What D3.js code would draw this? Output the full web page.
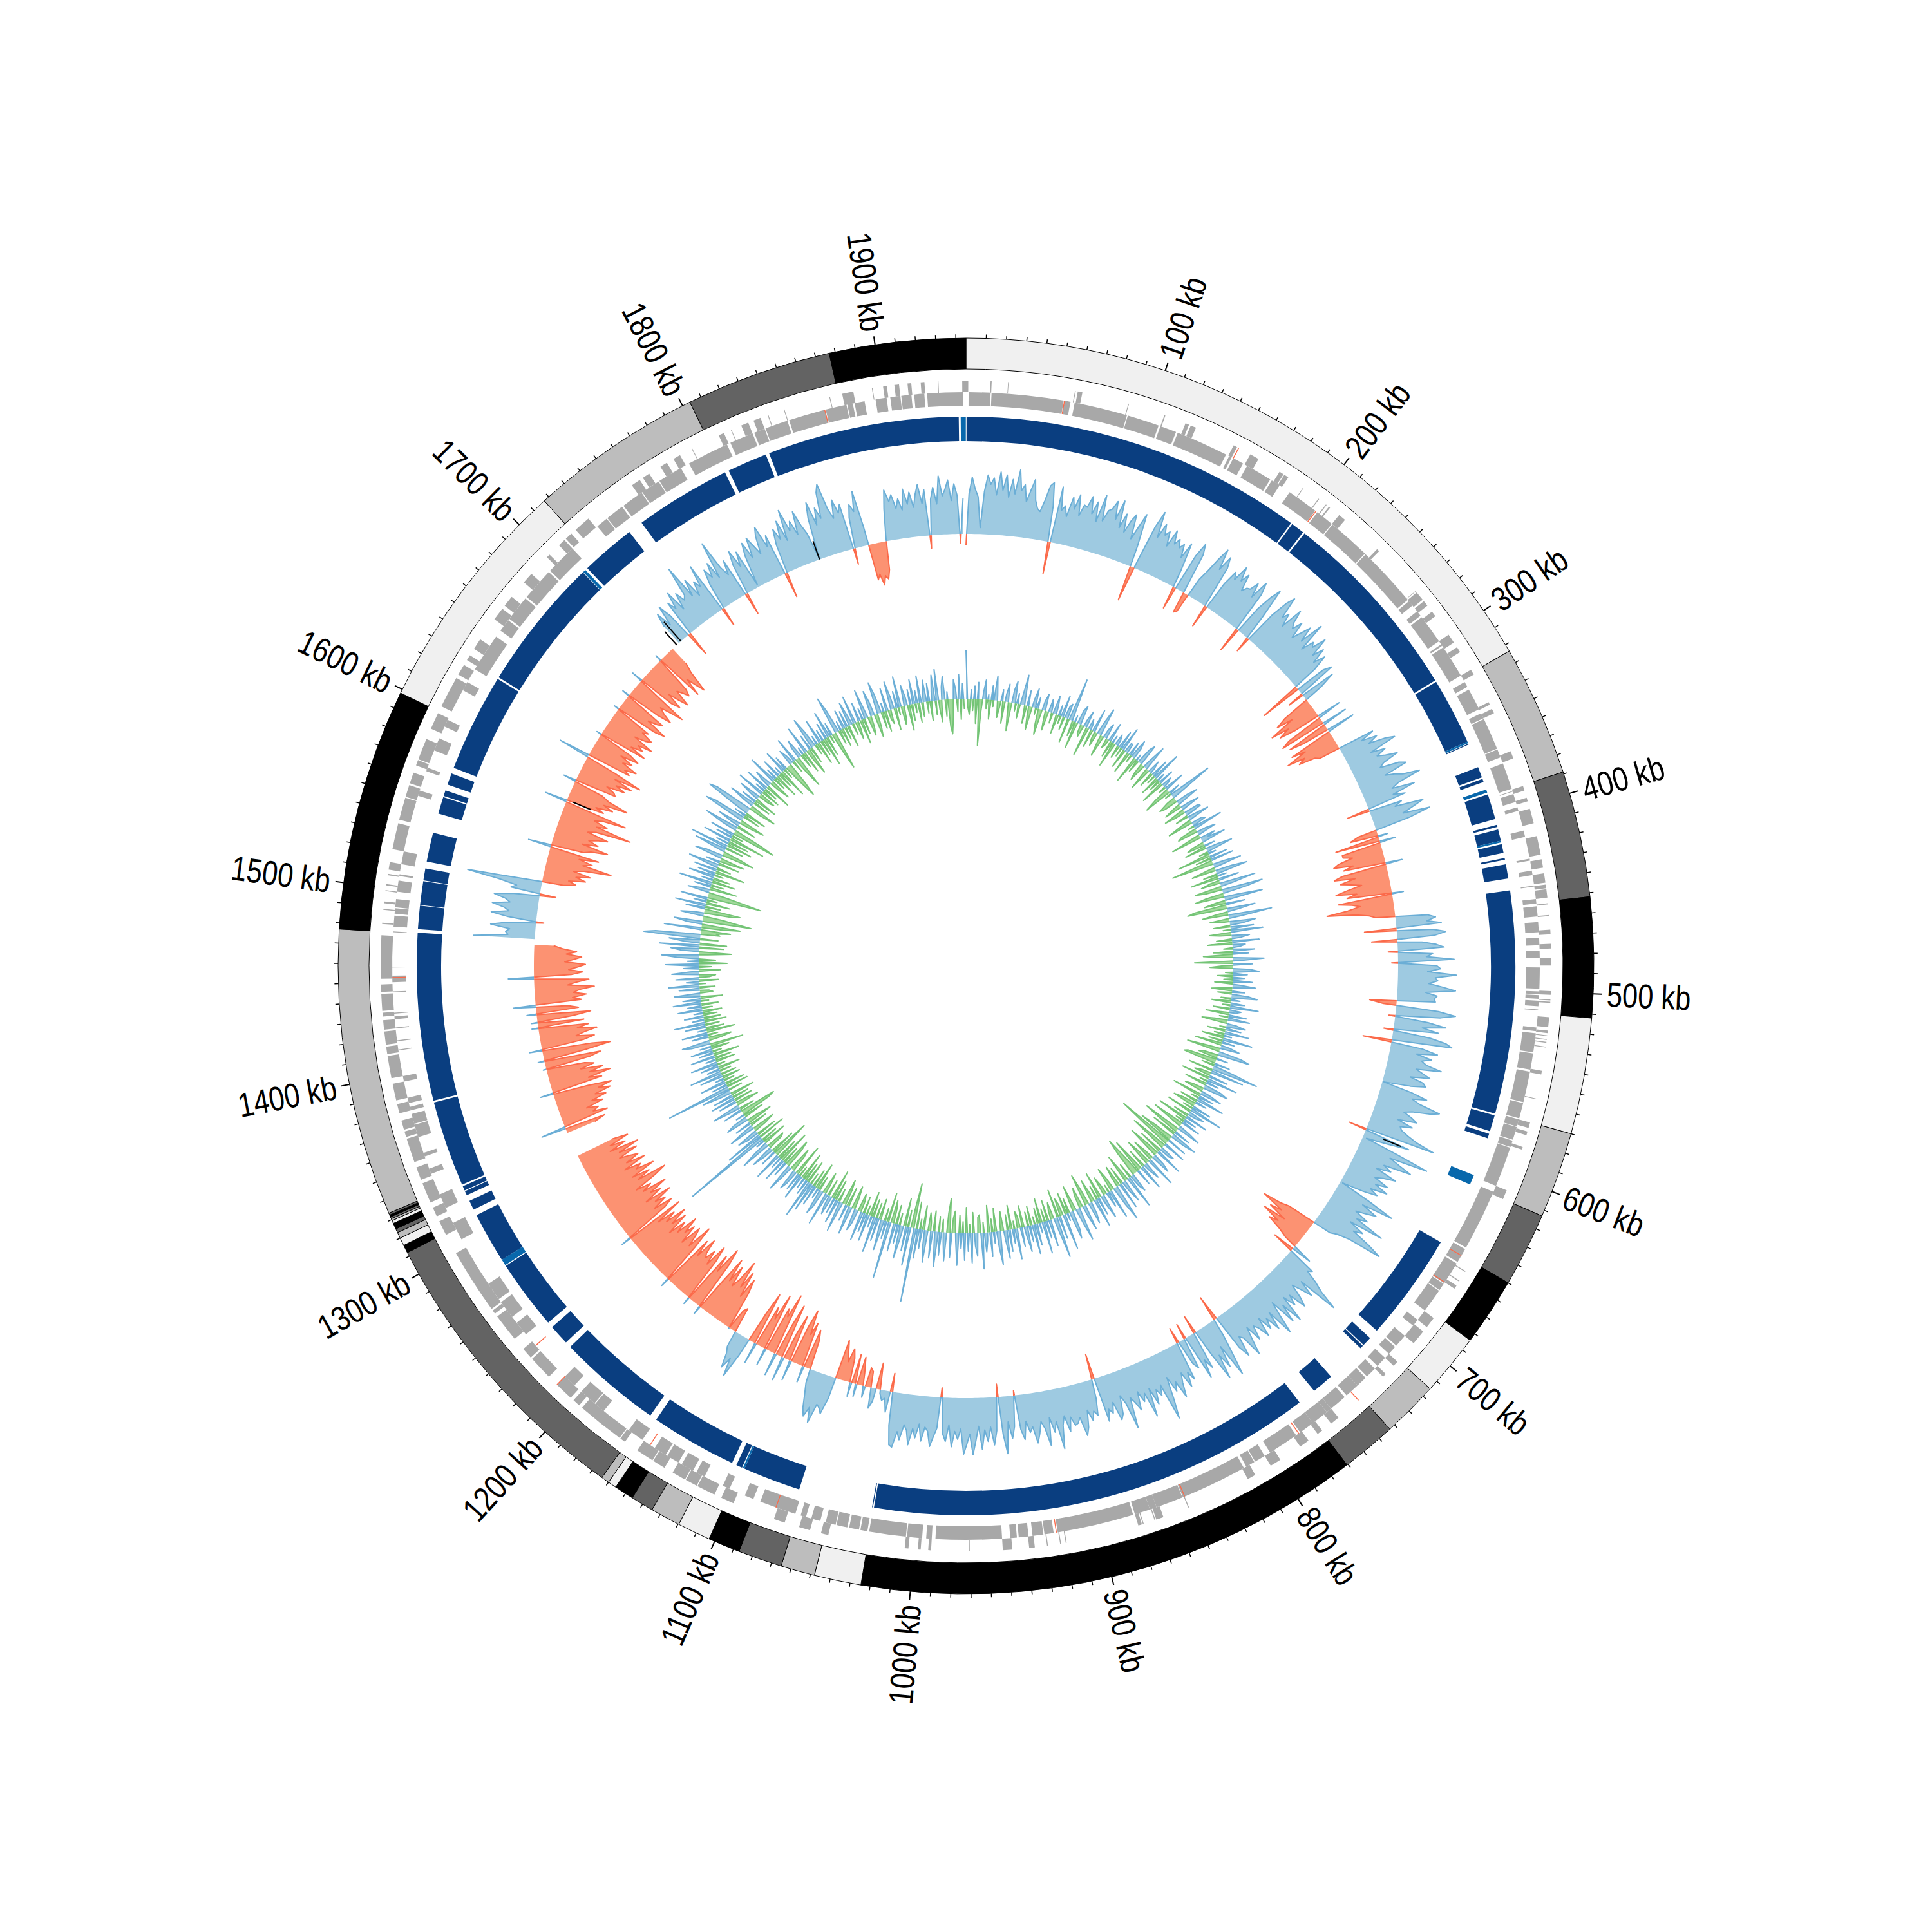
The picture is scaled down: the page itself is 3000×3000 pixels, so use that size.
<!DOCTYPE html>
<html><head><meta charset="utf-8">
<script src="https://cdn.jsdelivr.net/npm/d3@7/dist/d3.min.js"></script>
<style>html,body{margin:0;background:#fff}svg{display:block}</style></head>
<body><svg id="c" width="3000" height="3000"></svg>
<script>
const genomeKb=1945;
const contigEdges=[0,323.6,389,452,512,570,613,650,684,715,743,770.6,1024.6,1048,1065,1087,1103,1119.6,1134.6,1146,1155.7,1160,1164,1312,1316,1320,1323,1325,1328,1329.5,1330.5,1331.5,1332.5,1333.5,1477,1598,1717,1804,1877,1945];
const contigShades=["#f0f0f0","#bdbdbd","#636363","#000000","#f0f0f0","#bdbdbd","#636363","#000000","#f0f0f0","#bdbdbd","#636363","#000000","#f0f0f0","#bdbdbd","#636363","#000000","#f0f0f0","#bdbdbd","#636363","#000000","#f0f0f0","#bdbdbd","#636363","#000000","#f0f0f0","#bdbdbd","#636363","#000000","#f0f0f0","#bdbdbd","#636363","#000000","#636363","#bdbdbd","#000000","#f0f0f0","#bdbdbd","#636363","#000000"];
const majorTicks=[100,200,300,400,500,600,700,800,900,1000,1100,1200,1300,1400,1500,1600,1700,1800,1900];
const darkBlocks=[[0.3,196],[196.8,204.5],[205.5,317],[318,356],[357.3,357.8],[371.6,377.7],[378.7,380.5],[387.9,402.4],[405.8,407],[408.5,415],[417,422],[425,426],[428.6,436.7],[443.5,570.5],[571.5,580.8],[582.3,585],[649.4,711],[716.6,722],[722.6,724.5],[747.5,760],[770.5,1024.6],[1025.2,1025.7],[1068,1101],[1102.5,1106],[1108.7,1158],[1162,1221.6],[1225,1236.7],[1240,1280],[1284,1313],[1316.5,1322],[1325.5,1328],[1328.5,1331],[1332,1381],[1382,1477.5],[1479.5,1492.8],[1493.2,1506.8],[1507.2,1514],[1518,1534.6],[1545.8,1555.5],[1556.2,1559.5],[1563,1569.6],[1573,1629],[1630,1706],[1709.5,1740.8],[1749.4,1804.4],[1806.7,1829.5],[1831.5,1940.9]];
const lightBlocks=[[356,357],[385,386.8],[415,416],[607.2,612.9],[1101,1102],[1280.5,1284],[1706.3,1708],[1942,1944.9]];
const innerGenes=[[1.4,13.3],[13.8,53],[53.5,56.7],[59,88],[88.5,106],[107,116],[117,145.6],[147.5,149],[150,156],[158.5,173],[174,179],[185.5,202.6],[204,214],[214.5,238],[238.5,272],[273,276],[280,283],[284,300],[302,303],[304,322],[326,329],[330.6,342.6],[345,348],[348.5,366],[366.5,371],[374.6,389],[390.3,390.7],[392,396.5],[399.5,401.5],[412.5,416],[428,429],[434.5,437],[442.7,443.2],[450,452.5],[454,459.5],[462.5,468],[471,475],[478,482],[487,498.5],[500,501.5],[502,504],[505,508],[509.7,510.2],[519.5,521.5],[522.6,533],[533.6,542.5],[543.6,560.4],[561,569.4],[570,574],[574.3,581.5],[582,585.6],[586,608],[611.5,645],[646,654],[655,667.5],[668,672],[672.5,685.6],[692,696],[703,710],[711,716],[719,725],[727,733],[734,740],[740,748],[749.4,759],[759,762],[762,771.5],[771.5,780],[782.7,799.6],[803,809],[809.5,814.5],[816,852.5],[852.8,867.7],[867.7,871.5],[871.5,880],[881,922.8],[925,930],[930.6,936.5],[938.7,944],[945,948.6],[953,989],[991,994],[996.2,1004.4],[1005,1025],[1026,1029.8],[1030.6,1036],[1037,1043],[1043.5,1049],[1052,1057],[1060,1063],[1066,1086],[1090,1095],[1104,1108],[1119,1124],[1126,1133],[1135,1142],[1143,1150],[1158,1167],[1184,1190],[1190.5,1200],[1205,1212],[1243,1251],[1255,1265],[1267,1277],[1305,1315],[1324,1332],[1344,1347],[1354,1356],[1365,1372],[1372.5,1378],[1380,1382],[1384,1387],[1396,1399],[1413,1413.5],[1418,1418.5],[1425,1425.5],[1430,1431.5],[1433,1433.5],[1444.5,1445],[1450,1453.5],[1458,1458.4],[1477,1477.4],[1480,1486],[1487,1490],[1490.5,1495],[1499,1505],[1507.5,1508.5],[1514,1521],[1552,1555],[1566,1568],[1578,1585],[1592,1596],[1614,1619],[1627,1648],[1652,1659],[1660,1674],[1675,1693],[1694,1711],[1729,1735.5],[1736,1746],[1747,1759],[1759.5,1770],[1770.5,1784],[1789,1812],[1814,1827],[1828,1834],[1834.5,1847],[1848,1868],[1868.5,1880],[1880.5,1883.5],[1884.5,1890],[1896,1902],[1904,1909.5],[1910,1915.5],[1917,1922.5],[1924,1943.5]];
const outerGenes=[[0,1.2],[13,13.6],[22.3,22.6],[58,58.4],[59.5,62],[87,87.4],[107,107.6],[119,121],[122,125],[147,149],[157,162],[175,177.5],[178,180.5],[190,190.4],[200,200.5],[205,205.5],[207,207.8],[214,218],[241,242.5],[271,271.3],[272,277],[278,281],[285,288],[300,305],[308,311],[322,325],[341.5,343],[345.5,348],[370,374],[389.5,392],[396,398],[402,410],[417,427],[429.5,434],[437,442],[443,445],[445.5,450],[453,453.6],[459.2,459.8],[467,469.5],[474.5,477],[482,486],[499.5,501.5],[504,504.5],[505.2,505.8],[513.4,518.7],[520.5,521.8],[523,523.4],[525,525.4],[526.5,527],[529,529.5],[542,544],[557,557.4],[570,573],[575,577],[583.5,585],[608,613],[656,656.5],[662,662.5],[665,667],[686,692],[695,703],[716,719],[725,727],[759,764],[770,773],[779,784.4],[797,803],[812.5,817],[851.5,852],[866,870],[870.5,871],[877,877.5],[878,880],[919,919.5],[922,922.5],[929,929.5],[936,939],[948,953],[970.5,970.8],[991,992.5],[996.5,998],[1003,1005],[1046,1050],[1056,1062],[1070,1076],[1099,1106],[1110,1120],[1120.5,1127],[1127.5,1135],[1140,1147],[1147.5,1157],[1165,1168],[1168.5,1194],[1196,1200],[1202,1212],[1218,1231],[1232,1238],[1245,1260],[1262,1264],[1265,1300],[1311,1319],[1322,1327],[1330,1341],[1343,1350],[1353,1366],[1367,1370],[1371,1376],[1380,1385],[1387,1396],[1399,1411],[1412,1416],[1417,1424],[1425,1430],[1432,1434],[1435,1444],[1445,1449],[1452,1475],[1481,1481.7],[1488.5,1489],[1492,1493],[1498.5,1499],[1501.5,1502.2],[1507,1507.7],[1510,1514],[1521,1535],[1537,1549],[1549.5,1556],[1557,1563],[1567,1570],[1570.5,1582],[1588,1597],[1601,1618],[1620,1626],[1629,1632],[1636,1642],[1655,1662],[1664,1670],[1680,1686],[1698,1700],[1707,1711],[1712,1716],[1719,1728],[1757,1762],[1764,1768],[1775,1779],[1783,1787],[1794,1794.4],[1810,1813],[1817,1817.4],[1823,1827],[1830,1834],[1838,1838.4],[1847,1847.4],[1872,1872.4],[1879,1885],[1895,1895.4],[1901,1903],[1907,1909.5],[1914,1916],[1921,1923],[1930,1930.4],[1943,1945]];
const redInnerGenes=[53.4,203,650,667,781,851.5,923.5,1077,1153,1235,1452.5,1868];
const redOuterGenes=[150,745,1212];
const skew000=[-18,62,88,70,58,10,66,92,78,88,62,98,70,94,60,88,66,104,72,82,56,74,92,60,48,44,62,86,92,56,-50,88,52,60,44,76,58,82,50,68,66,84,58,78,48,92,52,70,74,88];
const skew100=[60,92,50,74,46,66,78,40,62,84,34,-55,12,72,98,58,82,66,74,52,80,60,70,58,66,46,72,30,-36,58,82,66,-34,-30,30,48,72,92,60,84,68,-36,46,70,60,86,64,78,52,60];
const skew200=[62,76,54,84,66,-40,46,72,88,40,-25,52,80,94,60,70,50,86,66,58,74,48,62,78,54,92,46,66,60,82,52,70,46,64,40,-66,50,62,-26,56,30,-45,-62,-36,-78,-50,-68,-42,38,-60];
const skew300=[-74,40,-66,-44,45,-70,-48,-82,-54,-66,-40,-34,58,36,60,44,70,84,40,62,46,58,76,50,42,72,82,44,60,70,96,58,46,81,44,62,-36,52,40,84,66,48,90,56,-30,-44,15,-70,25,-62];
const skew400=[-62,-48,-72,-80,-50,-66,26,-70,-84,-52,-76,-60,-44,-68,-86,-54,-70,18,-85,-64,-52,-72,-105,-60,-40,-30,50,62,48,70,-50,56,76,58,-40,38,60,72,-15,54,44,87,-10,60,66,46,91,58,62,48];
const skew500=[70,90,44,62,58,60,-42,-20,66,93,70,-10,52,80,44,70,-15,58,84,94,-45,50,74,42,66,52,60,85,46,58,70,40,62,67,44,2,48,74,52,66,99,85,58,46,60,70,40,66,48,52];
const skew600=[64,80,110,-28,73,40,6,60,112,52,70,91,48,62,40,75,56,44,68,50,72,46,60,38,4,56,97,48,75,60,44,68,52,100,46,72,58,90,113,60,40,30,-46,-60,-88,-52,-70,-40,-76,-46];
const skew700=[-60,-36,-20,32,-35,46,40,62,78,108,44,70,52,38,60,74,46,62,42,84,50,78,36,60,88,44,72,48,64,40,70,52,44,66,40,60,84,50,44,76,58,-40,26,60,94,40,74,50,88,44];
const skew800=[-30,60,44,72,-25,50,40,-25,62,48,70,44,58,80,52,66,40,76,105,46,62,50,72,44,88,48,60,42,70,56,46,94,52,38,66,74,44,60,52,70,-40,30,56,48,62,44,70,82,52,60];
const skew900=[62,48,70,44,58,94,50,66,42,85,58,46,64,78,52,60,42,70,54,-8,48,66,40,89,58,-20,52,74,46,68,50,80,44,66,88,56,72,87,48,64,52,76,42,68,56,-15,48,62,77,54];
const skew1000=[48,70,44,66,52,78,56,48,72,60,85,82,52,-29,33,12,16,6,-41,20,32,-25,-30,18,-20,-44,20,-46,22,-38,-52,-30,-46,-62,34,60,52,48,79,56,72,60,40,22,-46,-62,26,-70,-50,-88];
const skew1100=[-60,32,-74,-45,38,-86,-52,36,-98,-60,-72,28,-90,-48,-66,34,-84,-50,30,68,40,58,36,26,-40,-34,2,-60,-82,-50,-90,-62,-104,-70,-56,-88,-60,-96,-52,14,-78,-104,-60,-86,12,-70,-94,-58,-80,-64];
const skew1200=[-70,-92,-58,-84,14,-66,-100,-60,-78,-90,-56,-86,-70,-96,-62,-80,-52,-88,-64,-93,-60,-78,-50,-94,16,-72,-88,-58,-82,-66,-96,-54,-84,-68,-98,-60,-76,-52,-90,-110,-64,-86,-58,-98,-70,-80,-54,-92,-62,-84];
const skew1300=[-72,-56,-88,-60,-94,-48,-76,-52,-84,-60,0,0,0,0,25,0,-30,0,-46,-64,39,-72,-50,-60,-42,-70,-54,-78,-62,-88,-70,-92,-56,20,-80,-60,-96,-64,-86,-52,-74,-60,5,-72,-88,10,-66,-106,-78,20];
const skew1400=[-66,-84,-56,-70,-90,-60,-78,10,-72,10,-56,-84,15,-66,-50,35,-72,-58,-80,-60,-70,-93,-52,-66,-85,40,-58,-76,-54,-68,-80,-48,-62,-74,-50,-66,-44,-30,0,96,42,46,40,70,46,-12,44,71,44,52];
const skew1500=[71,44,52,70,40,-25,46,38,67,117,-34,-52,-40,-66,-50,-72,-44,-60,-102,-56,-70,-48,-78,36,-52,-62,-88,-46,-70,-54,-66,-82,-48,-60,-115,-58,-74,-52,-64,-100,35,-60,-46,-72,-56,-93,-60,-48,20,-66];
const skew1600=[-62,-48,-76,-60,-84,-54,-95,-50,50,-70,-60,-78,-52,-66,-44,-72,-56,8,-76,-50,-68,-58,-80,-46,-64,-72,-52,-60,8,-66,-82,-48,-62,-70,12,-54,-76,-60,-50,-68,-87,18,-58,-72,-46,-64,-78,-52,-60,-70];
const skew1700=[-60,10,-78,-50,-66,-80,-46,-30,0,0,34,55,30,62,40,-40,58,44,70,36,62,46,52,98,44,70,38,60,48,82,-30,42,66,50,72,44,102,56,40,62,-35,48,70,42,64,4,52,72,44,76];
const skew1800=[60,44,72,85,50,66,-40,46,70,52,80,46,94,58,72,48,84,60,44,2,66,90,52,78,60,100,112,70,54,82,60,72,-25,48,68,56,87,30,-56,-48,-66,-52,-58,-44,10,50,79,60,70,48];
const skew1900=[62,44,76,52,70,46,66,80,50,72,-20,56,74,48,91,60,70,84,52,78,60,-15,56];
const skewBlocks=[skew000,skew100,skew200,skew300,skew400,skew500,skew600,skew700,skew800,skew900,skew1000,skew1100,skew1200,skew1300,skew1400,skew1500,skew1600,skew1700,skew1800,skew1900];
const in000=[75,-12,-24,14,-18,20,-38,26,-72,-20,12,30,-14,8,-30,22,-10,38,10,-26,-8,18,-34,12,28,-16,-44,20,34,-12,16,-22,10,47,8,-28,24,-14,-36,12,30,-10,18,-24,-40,14,26,-12,-30,20];
const in100=[10,-16,28,12,-30,16,-12,34,-20,18,24,-38,67,14,-24,10,-42,22,30,-14,-18,12,26,-46,16,8,-28,36,-12,-22,20,44,-10,-34,14,24,-16,-8,30,-26,12,-40,18,10,-20,28,-14,38,-30,16];
const in200=[14,-34,22,-12,30,18,-42,10,-20,26,34,-16,-28,12,40,-10,-36,20,8,-24,28,-14,46,-30,12,-18,24,-38,16,10,-12,32,-26,-44,18,-10,26,70,-14,-30,-22,20,36,-12,-28,14,30,-34,-18,24];
const in300=[26,-20,12,34,-14,-40,18,22,-10,46,-26,-32,14,30,-12,-48,24,10,38,-18,-28,16,-34,20,42,-14,12,-52,28,-24,36,-66,-30,18,44,-12,-38,26,50,-22,14,-44,32,-16,-30,56,20,-42,-26,64];
const in400=[38,-28,-46,22,60,-14,-34,30,-52,-62,44,18,-20,-40,68,26,-30,-16,40,22,-26,36,-12,50,-34,-18,28,14,-24,42,-38,20,12,-14,34,-30,24,-46,-20,48,14,-60,30,-16,-36,26,40,-12,22,-24];
const in500=[18,-14,30,-28,12,36,-10,-32,20,-22,26,40,-16,14,-30,22,-12,44,-26,18,10,-36,28,-14,34,-20,-40,16,30,-10,24,-28,38,-16,12,-34,46,-22,20,-42,14,30,-18,-52,36,50,-24,-30,18,-46];
const in600=[-52,24,-20,34,73,-38,52,-14,-26,30,-44,48,-12,20,-34,28,40,-18,-30,16,34,-46,24,-12,44,-28,18,-22,-36,30,-16,52,-40,26,14,-24,36,-48,20,-14,30,-50,-22,18,38,-60,-30,26,-40,42];
const in700=[22,-30,-56,32,-90,-44,36,-28,-60,24,18,-38,44,-26,-52,20,32,-16,-36,48,-22,-42,28,14,-30,40,-18,-54,26,-34,-63,-40,30,20,-24,52,-14,-44,36,18,-28,42,-34,-16,58,30,-22,-38,46,-12];
const in800=[24,-16,-30,38,14,-42,28,-22,46,-12,-36,20,34,-26,-50,40,16,-32,-20,52,24,-14,-40,30,44,-24,12,-34,56,-18,-28,36,-44,64,22,-26,-14,42,-32,28,-20,50,-38,16,-24,34,-12,46,-30,26];
const in900=[-22,40,14,-34,30,-18,-26,48,-12,22,-38,34,-24,44,16,-30,-14,52,26,-36,18,-20,38,-42,12,30,-16,56,-28,-24,36,20,-32,46,-14,28,-40,42,-18,24,-28,50,14,-34,-22,38,-53,-30,44,16];
const in1000=[-20,36,-24,54,18,-32,42,-14,-28,50,24,-38,30,-16,46,-42,115,-70,-34,60,-26,38,-44,20,52,-18,30,-30,44,-22,-36,90,-46,28,-20,48,14,-32,36,-24,56,-28,18,-38,42,-14,30,-26,46,-18];
const in1100=[-28,22,34,-18,-36,44,16,-30,26,-24,-40,48,14,-20,38,-32,24,-46,30,18,-26,52,-14,-34,28,40,-22,16,-42,32,-28,46,-18,60,-36,24,-30,18,-44,40,-16,28,-50,22,34,-26,-38,16,44,-32];
const in1200=[-46,24,-28,38,-52,18,-34,44,-20,-62,26,-40,16,36,-24,-30,48,22,-38,14,-26,140,-44,60,-32,20,34,-22,-36,42,16,-28,26,-40,-18,36,24,-32,14,-48,-58,30,-24,18,44,-36,-20,28,-30,38];
const in1300=[-26,32,-38,18,46,-22,102,-34,24,-30,40,-16,14,-28,36,-24,50,-18,20,-34,28,-12,42,-30,16,-26,38,-40,22,-14,34,-28,18,-52,30,44,-20,-36,26,-16,40,-44,14,-28,32,-22,48,-34,18,-26];
const in1400=[30,-22,14,-30,38,-16,22,-26,44,-12,28,-34,18,40,-20,-14,32,-24,48,-10,20,-30,36,-16,-26,42,14,-34,24,-20,52,-44,18,-26,34,58,-14,-50,28,44,-38,62,-42,24,48,-28,88,70,-30,-24];
const in1500=[-46,58,-34,-60,24,44,-76,-52,-30,36,16,-44,-56,30,-24,48,-38,20,-16,42,-85,-60,-28,34,14,-42,26,-20,52,-36,18,-26,40,-14,28,-46,36,-22,14,48,-32,22,-18,-38,44,26,-50,-30,16,50];
const in1600=[-28,60,-40,20,-32,44,-56,26,-18,38,-69,-48,24,54,-30,14,36,-22,-40,66,50,-26,18,-34,30,73,62,-20,-44,16,42,-28,24,-36,12,34,-18,-26,44,-30,16,-22,38,-42,14,28,-16,-34,46,-20];
const in1700=[18,-38,30,-24,12,-46,36,-16,22,-30,-58,-36,26,14,-20,40,-28,-52,18,30,-22,12,-34,44,-18,-42,24,-26,50,28,-16,14,-36,38,-24,18,-44,26,-30,42,-12,20,-34,-60,59,36,-22,14,-28,30];
const in1800=[-20,26,-34,38,14,-18,44,-28,-12,30,-38,18,-24,46,12,-30,-16,40,22,-36,-20,50,30,-26,14,-32,36,-14,-22,44,18,-34,26,-12,48,-28,-18,32,14,-40,24,-26,38,-14,20,-30,42,-22,12,34];
const in1900=[-18,28,-30,14,40,-22,48,-14,-34,20,36,-26,12,-42,-54,-28,30,16,-20,38,-32,24,-16];
const innerBlocks=[in000,in100,in200,in300,in400,in500,in600,in700,in800,in900,in1000,in1100,in1200,in1300,in1400,in1500,in1600,in1700,in1800,in1900];
const blackMarks=[[608,30,60],[1581,-10,-40],[1838,0,30],[1722,0,40],[1718,0,28]];

const svg=d3.select("#c");
svg.append("rect").attr("width",3000).attr("height",3000).attr("fill","#fff");
const root=svg.append("g").attr("transform","translate(1500,1500)");
const ang=d3.scaleLinear().domain([0,genomeKb]).range([0,2*Math.PI]);
const arc=d3.arc();
const sector=(a,b,r0,r1)=>arc({startAngle:ang(a),endAngle:ang(b),innerRadius:r0,outerRadius:r1});
function band(list,r0,r1,fill,stroke,sw){
  root.append("g").selectAll("path").data(list).join("path")
    .attr("d",d=>sector(d[0],d[1],r0,r1)).attr("fill",fill)
    .attr("stroke",stroke||"none").attr("stroke-width",sw||0);
}
root.append("g").selectAll("path").data(contigShades).join("path")
  .attr("d",(c,i)=>sector(contigEdges[i],contigEdges[i+1],927,975))
  .attr("fill",c=>c).attr("stroke","#000").attr("stroke-width",1);
const minor=d3.range(0,genomeKb,10).filter(k=>k%100!==0);
const pt=(k,r)=>{const t=ang(k);return [r*Math.sin(t),-r*Math.cos(t)];};
root.append("g").selectAll("line").data(minor).join("line")
  .attr("x1",k=>pt(k,975)[0]).attr("y1",k=>pt(k,975)[1]).attr("x2",k=>pt(k,981)[0]).attr("y2",k=>pt(k,981)[1])
  .attr("stroke","#000").attr("stroke-width",1.5);
root.append("g").selectAll("line").data(majorTicks).join("line")
  .attr("x1",k=>pt(k,975)[0]).attr("y1",k=>pt(k,975)[1]).attr("x2",k=>pt(k,988)[0]).attr("y2",k=>pt(k,988)[1])
  .attr("stroke","#000").attr("stroke-width",2);
root.append("g").selectAll("text").data(majorTicks).join("text")
  .text(k=>k+" kb")
  .attr("font-family","'Liberation Sans',sans-serif").attr("font-size",53).attr("fill","#000")
  .attr("dy","0.35em")
  .attr("text-anchor",k=>k<genomeKb/2?"start":"end")
  .attr("transform",k=>{const p=pt(k,996),d=ang(k)*180/Math.PI;return `translate(${p[0]},${p[1]}) rotate(${k<genomeKb/2?d-90:d+90}) scale(0.82,1)`;});
band(innerGenes,870,891,"#a8a8a8");
band(outerGenes,891,909,"#a8a8a8");
const tag=k=>[k-0.25,k+0.25];
band(redInnerGenes.map(tag),870,891,"#fb6a4a");
band(redOuterGenes.map(tag),891,909,"#fb6a4a");
band(darkBlocks,815,853,"#0a3e80");
band(lightBlocks,815,853,"#0868ac");

function flatten(blocks){
  const out=[];
  blocks.forEach((b,i)=>{const span=i<19?100:genomeKb-1900;b.forEach((v,j)=>out.push({k:i*100+j*span/b.length,v}));});
  return out;
}
function withCrossings(pts){
  const out=[];
  pts.forEach((p,i)=>{
    out.push(p);
    const q=pts[i+1];
    if(q&&p.v*q.v<0){const f=p.v/(p.v-q.v);out.push({k:p.k+f*(q.k-p.k),v:0,cross:true});}
  });
  return out;
}
function track(blocks,base,posFill,posLine,negFill,negLine){
  const pts=withCrossings(flatten(blocks));
  const rad=d3.scaleLinear().domain([-100,100]).range([base-100,base+100]);
  const draw=(sign,fill,line)=>{
    const ok=d=>d.cross||d.v*sign>0;
    const a=d3.areaRadial().defined(ok).angle(d=>ang(d.k)).innerRadius(rad(0)).outerRadius(d=>rad(d.v));
    const l=d3.lineRadial().defined(ok).angle(d=>ang(d.k)).radius(d=>rad(d.v));
    root.append("path").attr("d",a(pts)).attr("fill",fill);
    root.append("path").attr("d",l(pts)).attr("fill","none").attr("stroke",line).attr("stroke-width",2).attr("stroke-linejoin","round");
  };
  draw(1,posFill,posLine);draw(-1,negFill,negLine);
  return rad;
}
const rSkew=track(skewBlocks,671,"#9ecae1","#6baed6","#fc9272","#fb6a4a");
root.append("g").selectAll("line").data(blackMarks).join("line")
  .attr("x1",d=>pt(d[0],rSkew(d[1]))[0]).attr("y1",d=>pt(d[0],rSkew(d[1]))[1])
  .attr("x2",d=>pt(d[0],rSkew(d[2]))[0]).attr("y2",d=>pt(d[0],rSkew(d[2]))[1])
  .attr("stroke","#000").attr("stroke-width",2);
track(innerBlocks,415,"#9ecae1","#6baed6","#a1d99b","#74c476");
</script></body></html>
